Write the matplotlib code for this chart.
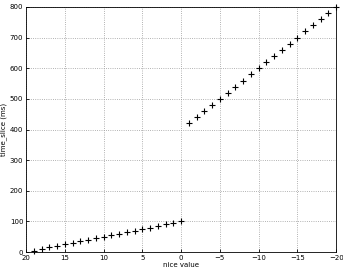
import numpy as np
import matplotlib
matplotlib.use('Agg')
import matplotlib.pyplot as plt

# nice values and the matching time slices (ms)
nice_pos = [19, 18, 17, 16, 15, 14, 13, 12, 11, 10, 9, 8, 7, 6, 5, 4, 3, 2, 1, 0]
slice_pos = [5, 10, 15, 20, 25, 30, 35, 40, 45, 50, 55, 60, 65, 70, 75, 80, 85, 90, 95, 100]
nice_neg = [-1, -2, -3, -4, -5, -6, -7, -8, -9, -10, -11, -12, -13, -14, -15, -16, -17, -18, -19, -20]
slice_neg = [420, 440, 460, 480, 500, 520, 540, 560, 580, 600, 620, 640, 660, 680, 700, 720, 740, 760, 780, 800]

x_ticks = [20, 15, 10, 5, 0, -5, -10, -15, -20]
y_ticks = [0, 100, 200, 300, 400, 500, 600, 700, 800]

plt.rcParams['font.size'] = 5
fig = plt.figure(figsize=(3.43, 2.69), dpi=100)
ax = fig.add_axes([0.076, 0.063, 0.904, 0.911])

ax.plot(nice_pos + nice_neg, slice_pos + slice_neg, '+', color='black',
        ms=4, mew=0.8, clip_on=False, zorder=3)

ax.set_xlim(20, -20)
ax.set_ylim(0, 800)
ax.set_xticks(x_ticks)
ax.set_yticks(y_ticks)
ax.set_xticklabels([str(t).replace('-', '\u2212') for t in x_ticks])
ax.grid(True, linestyle=':', color='#999999', linewidth=0.6)
ax.tick_params(direction='in', length=2.5, width=0.6, pad=2, labelsize=5)
for s in ax.spines.values():
    s.set_linewidth(0.6)

ax.set_xlabel('nice value', fontsize=5, labelpad=1)
ax.set_ylabel('time_slice (ms)', fontsize=5, labelpad=2)

fig.savefig('out.png', dpi=100)
